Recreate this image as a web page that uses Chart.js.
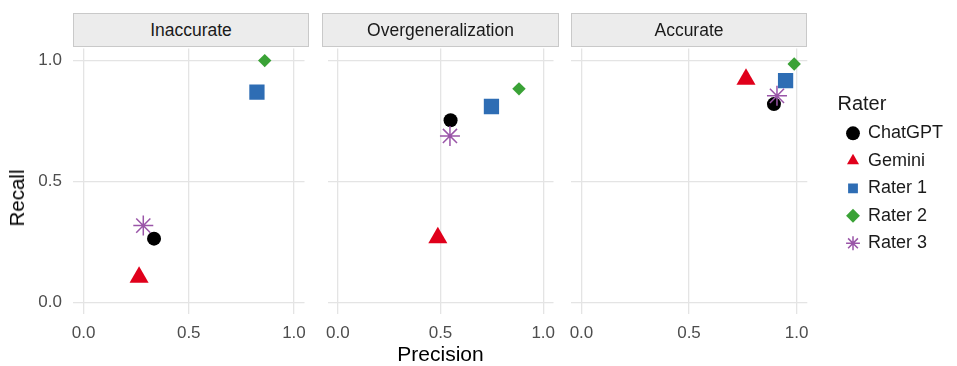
<!DOCTYPE html>
<html>
<head>
<meta charset="utf-8">
<script src="https://cdn.jsdelivr.net/npm/chart.js@4.4.1/dist/chart.umd.min.js"></script>
<style>
html, body { margin: 0; padding: 0; background: #ffffff; }
#wrap { position: relative; width: 957px; height: 366px; overflow: hidden; font-family: "Liberation Sans", Arial, sans-serif; }
#wrap canvas { position: absolute; top: 0; }
.strip { position: absolute; top: 13px; height: 34px; box-sizing: border-box; background: #ececec; border: 1px solid #c9c9c9;
         color: #1a1a1a; font-size: 17.5px; line-height: 32px; text-align: center; white-space: nowrap; }
#ytitle { position: absolute; left: 17px; top: 198px; transform: translate(-50%, -50%) rotate(-90deg);
          font-size: 20.5px; color: #000; white-space: nowrap; }
</style>
</head>
<body>
<div id="wrap">
  <canvas id="p0" width="316" height="366" style="left:0px"></canvas>
  <canvas id="p1" width="249" height="366" style="left:316px"></canvas>
  <canvas id="p2" width="957" height="366" style="left:0px"></canvas>
  <div class="strip" id="s0" style="left:73px;width:236px"></div>
  <div class="strip" id="s1" style="left:322px;width:237px"></div>
  <div class="strip" id="s2" style="left:571px;width:236px"></div>
  <div id="ytitle">Recall</div>
</div>
<script>
// ---------------- data ----------------
const facets = ['Inaccurate', 'Overgeneralization', 'Accurate'];
const raters = ['ChatGPT', 'Gemini', 'Rater 1', 'Rater 2', 'Rater 3'];
const tickValues = [0, 0.5, 1];
const xTitle = 'Precision';
const legendTitle = 'Rater';

// one value per facet: Inaccurate, Overgeneralization, Accurate
const chatgptPrecision = [0.335, 0.549, 0.895];
const chatgptRecall    = [0.263, 0.753, 0.820];
const geminiPrecision  = [0.264, 0.487, 0.765];
const geminiRecall     = [0.103, 0.267, 0.923];
const rater1Precision  = [0.824, 0.748, 0.949];
const rater1Recall     = [0.869, 0.810, 0.917];
const rater2Precision  = [0.861, 0.882, 0.989];
const rater2Recall     = [1.000, 0.883, 0.986];
const rater3Precision  = [0.284, 0.546, 0.909];
const rater3Recall     = [0.317, 0.688, 0.854];

// ---------------- styling ----------------
const FONT = '"Liberation Sans", Arial, sans-serif';
const seriesPrecision = [chatgptPrecision, geminiPrecision, rater1Precision, rater2Precision, rater3Precision];
const seriesRecall = [chatgptRecall, geminiRecall, rater1Recall, rater2Recall, rater3Recall];
const seriesStyle = [
  { pointStyle: 'circle',   radius: 7,    color: '#000000', bw: 0 },
  { pointStyle: 'triangle', radius: 11,   color: '#e0001b', bw: 0 },
  { pointStyle: 'rect',     radius: 10.8, color: '#2e6db4', bw: 0 },
  { pointStyle: 'rectRot',  radius: 6.7,  color: '#3aa236', bw: 0 },
  { pointStyle: 'star',     radius: 10,   color: '#9a55a8', bw: 1.5 }
];
const gridColor = '#e4e4e4';
const panelGeom = [
  { yAxisWidth: 73,    padRight: 7,   showYTicks: true,  showXTitle: false, legend: false },
  { yAxisWidth: 6.3,   padRight: 6.7, showYTicks: false, showXTitle: true,  legend: false },
  { yAxisWidth: 570.7, padRight: 9.5, showYTicks: false, showXTitle: false, legend: true, legendGap: 30.2, legendWidth: 110 }
];

facets.forEach((f, p) => { document.getElementById('s' + p).textContent = f; });

function buildPanel(p) {
  const g = panelGeom[p];
  const datasets = raters.map((name, i) => {
    const st = seriesStyle[i];
    return {
      label: name,
      data: [{ x: seriesPrecision[i][p], y: seriesRecall[i][p] }],
      xAxisID: 'x', yAxisID: 'y',
      order: raters.length - i,
      pointStyle: st.pointStyle,
      pointRadius: st.radius, pointHoverRadius: st.radius,
      backgroundColor: st.color, pointBackgroundColor: st.color,
      borderColor: st.color, pointBorderColor: st.color,
      borderWidth: st.bw, pointBorderWidth: st.bw
    };
  });
  const setTicks = (s) => { s.ticks = tickValues.map(v => ({ value: v })); };
  const scales = {
    x: {
      type: 'linear', min: -0.05, max: 1.05,
      afterBuildTicks: setTicks,
      afterFit: (s) => { s.height = 51.7; },
      grid: { color: gridColor, lineWidth: 1.3, drawTicks: false },
      border: { display: false },
      ticks: { padding: 9, color: '#4d4d4d', font: { family: FONT, size: 17 }, maxRotation: 0, autoSkip: false,
               callback: (v) => Number(v).toFixed(1) },
      title: { display: g.showXTitle, text: xTitle, color: '#000000',
               font: { family: FONT, size: 21, lineHeight: 1 }, padding: { top: 0, bottom: 0 } }
    },
    y: {
      type: 'linear', position: 'left', min: -0.05, max: 1.05,
      afterBuildTicks: setTicks,
      afterFit: (s) => { s.width = g.yAxisWidth; },
      grid: { color: gridColor, lineWidth: 1.3, drawTicks: false },
      border: { display: false },
      ticks: { display: g.showYTicks, padding: 11, color: '#4d4d4d', font: { family: FONT, size: 17 },
               callback: (v) => Number(v).toFixed(1) }
    }
  };
  if (g.legend) {
    scales.yGap = {
      type: 'linear', position: 'right', display: true,
      grid: { display: false }, border: { display: false }, ticks: { display: false },
      afterFit: (s) => { s.width = g.legendGap; }
    };
  }
  return new Chart(document.getElementById('p' + p), {
    type: 'scatter',
    data: { datasets },
    options: {
      responsive: false, animation: false, devicePixelRatio: 1, events: [],
      layout: { padding: { left: 0, right: g.padRight, top: 48.5, bottom: 0 } },
      plugins: {
        tooltip: { enabled: false },
        legend: {
          display: g.legend, position: 'right', align: 'start', maxWidth: g.legendWidth,
          title: { display: true, text: legendTitle, position: 'start', color: '#1a1a1a',
                   font: { family: FONT, size: 20, lineHeight: 1 }, padding: { top: 45.8, bottom: 0.5 } },
          labels: { usePointStyle: true, boxWidth: 12, boxHeight: 9.8, padding: 9.5, color: '#1a1a1a',
                    font: { family: FONT, size: 18 },
                    sort: (a, b) => a.datasetIndex - b.datasetIndex }
        }
      },
      scales
    }
  });
}
facets.forEach((f, p) => buildPanel(p));
</script>
</body>
</html>
